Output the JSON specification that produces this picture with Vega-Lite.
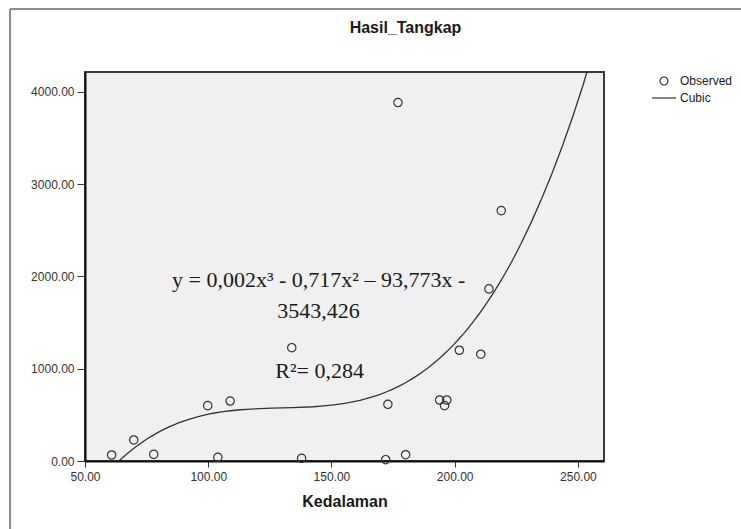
{
  "$schema": "https://vega.github.io/schema/vega-lite/v6.json",
  "width": 519,
  "height": 389,
  "autosize": {"type": "none"},
  "padding": {"left": 85, "top": 72, "right": 137, "bottom": 68},
  "background": "white",
  "title": {
    "text": "Hasil_Tangkap",
    "font": "Liberation Sans",
    "fontSize": 16,
    "fontWeight": "bold",
    "color": "#1a1a1a",
    "anchor": "middle",
    "frame": "group",
    "dx": 61,
    "offset": -28
  },
  "config": {
    "view": {"fill": "#f0f0f0", "stroke": "#3a3a3a", "strokeWidth": 2},
    "axis": {
      "grid": false,
      "labelFlush": false,
      "domainColor": "#111",
      "domainWidth": 2,
      "tickColor": "#333",
      "labelFont": "Liberation Sans",
      "labelFontSize": 12,
      "labelColor": "#333",
      "titleFont": "Liberation Sans",
      "titleFontSize": 16,
      "titleFontWeight": "bold",
      "titleColor": "#1a1a1a"
    }
  },
  "datasets": {
    "observed": [
      {"kedalaman": 60.8, "hasil": 65},
      {"kedalaman": 69.8, "hasil": 228},
      {"kedalaman": 77.9, "hasil": 72},
      {"kedalaman": 99.8, "hasil": 600},
      {"kedalaman": 103.9, "hasil": 40},
      {"kedalaman": 108.9, "hasil": 650},
      {"kedalaman": 133.9, "hasil": 1228},
      {"kedalaman": 137.9, "hasil": 29},
      {"kedalaman": 172.0, "hasil": 14},
      {"kedalaman": 172.9, "hasil": 614},
      {"kedalaman": 177.0, "hasil": 3884},
      {"kedalaman": 180.1, "hasil": 68},
      {"kedalaman": 193.9, "hasil": 661},
      {"kedalaman": 195.9, "hasil": 600},
      {"kedalaman": 196.8, "hasil": 661},
      {"kedalaman": 201.9, "hasil": 1200},
      {"kedalaman": 210.6, "hasil": 1157},
      {"kedalaman": 213.9, "hasil": 1865},
      {"kedalaman": 218.9, "hasil": 2713}
    ],
    "single": [{}]
  },
  "layer": [
    {
      "data": {"name": "single"},
      "mark": {"type": "rule", "clip": false, "color": "#8c8c8c", "strokeWidth": 2},
      "encoding": {
        "x": {"datum": 19.6, "type": "quantitative"},
        "y": {"datum": 4898, "type": "quantitative"},
        "y2": {"datum": -1200}
      }
    },
    {
      "data": {"name": "single"},
      "mark": {"type": "rule", "clip": false, "color": "#8c8c8c", "strokeWidth": 2},
      "encoding": {
        "x": {"datum": 19.6, "type": "quantitative"},
        "x2": {"datum": 330},
        "y": {"datum": 4898, "type": "quantitative"}
      }
    },
    {
      "data": {"name": "observed"},
      "mark": {"type": "point", "filled": false, "size": 70, "strokeWidth": 1.2, "color": "#333", "opacity": 1},
      "encoding": {
        "x": {
          "field": "kedalaman",
          "type": "quantitative",
          "title": "Kedalaman",
          "scale": {"domain": [50, 260.6], "nice": false, "zero": false},
          "axis": {"values": [50, 100, 150, 200, 250], "format": ".2f", "tickSize": 6, "labelPadding": 4, "titlePadding": 11}
        },
        "y": {
          "field": "hasil",
          "type": "quantitative",
          "title": null,
          "scale": {"domain": [0, 4215], "nice": false, "zero": false},
          "axis": {"values": [0, 1000, 2000, 3000, 4000], "format": ".2f", "tickSize": 8, "labelPadding": 3}
        },
        "shape": {
          "datum": "Observed",
          "scale": {"domain": ["Observed", "Cubic"], "range": ["circle", "M-3,0H3"]},
          "legend": {
            "title": null,
            "orient": "none",
            "legendX": 573,
            "legendY": 3,
            "padding": 0,
            "labelFont": "Liberation Sans",
            "labelFontSize": 12,
            "labelColor": "#1a1a1a",
            "labelOffset": 10,
            "rowPadding": 4,
            "symbolSize": 64,
            "symbolStrokeColor": "#333",
            "symbolFillColor": "transparent",
            "symbolStrokeWidth": 1.2
          }
        }
      }
    },
    {
      "data": {"name": "observed"},
      "transform": [
        {"regression": "hasil", "on": "kedalaman", "method": "poly", "order": 3, "extent": [50, 260.6]}
      ],
      "mark": {"type": "line", "clip": true, "color": "#333", "strokeWidth": 1.3},
      "encoding": {
        "x": {"field": "kedalaman", "type": "quantitative"},
        "y": {"field": "hasil", "type": "quantitative"}
      }
    },
    {
      "data": {"name": "single"},
      "mark": {"type": "text", "font": "Liberation Serif", "fontSize": 22, "color": "#1a1a1a", "align": "center", "baseline": "alphabetic"},
      "encoding": {
        "x": {"datum": 144.8, "type": "quantitative"},
        "y": {"datum": 1889, "type": "quantitative"},
        "text": {"value": "y = 0,002x³ - 0,717x² – 93,773x  -"}
      }
    },
    {
      "data": {"name": "single"},
      "mark": {"type": "text", "font": "Liberation Serif", "fontSize": 22, "color": "#1a1a1a", "align": "center", "baseline": "alphabetic"},
      "encoding": {
        "x": {"datum": 144.8, "type": "quantitative"},
        "y": {"datum": 1550, "type": "quantitative"},
        "text": {"value": "3543,426"}
      }
    },
    {
      "data": {"name": "single"},
      "mark": {"type": "text", "font": "Liberation Serif", "fontSize": 22, "color": "#1a1a1a", "align": "center", "baseline": "alphabetic"},
      "encoding": {
        "x": {"datum": 145.2, "type": "quantitative"},
        "y": {"datum": 900, "type": "quantitative"},
        "text": {"value": "R²= 0,284"}
      }
    }
  ]
}
